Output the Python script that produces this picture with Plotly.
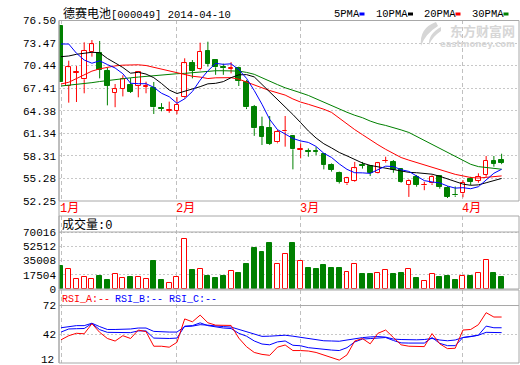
import plotly.graph_objects as go

# ---------------- data ----------------
title_text = "德赛电池[000049] 2014-04-10"
month_labels = ["1月", "2月", "3月", "4月"]
month_idx = [0, 15, 31, 52]

opens = [75.80, 67.70, 69.50, 68.60, 72.31, 72.17, 69.72, 66.80, 67.30, 67.83,
         67.70, 67.60, 67.43, 64.75, 64.40, 64.34, 66.18, 70.83, 69.94, 72.40,
         71.19, 70.30, 70.00, 70.08, 68.28, 64.84, 62.23, 62.10, 60.13, 61.60,
         60.98, 59.15, 59.00, 59.00, 58.52, 57.08, 56.05, 54.62, 54.98, 57.08,
         56.95, 56.05, 57.60, 57.53, 56.50, 54.39, 55.51, 54.35, 54.62, 55.60,
         53.95, 53.10, 53.28, 55.20, 54.93, 55.74, 57.66, 57.75]
highs = [75.80, 71.10, 70.38, 73.57, 73.88, 73.75, 70.12, 67.97, 69.14, 68.77,
         69.71, 68.28, 68.24, 65.40, 65.60, 66.20, 71.42, 71.19, 73.52, 73.65,
         71.30, 70.70, 70.90, 70.30, 68.50, 65.15, 63.58, 63.67, 61.80, 63.67,
         61.10, 60.00, 59.32, 59.50, 58.65, 57.30, 56.20, 55.50, 57.50, 57.50,
         57.08, 57.50, 58.20, 57.75, 56.60, 55.15, 55.74, 54.84, 55.70, 55.70,
         54.25, 54.20, 55.07, 55.50, 55.97, 58.30, 58.30, 58.60]
lows = [68.28, 65.46, 65.55, 66.72, 71.64, 68.73, 65.10, 64.85, 66.30, 66.76,
        66.18, 66.72, 63.94, 64.30, 64.10, 63.90, 66.00, 68.73, 69.80, 70.30,
        69.20, 69.20, 69.40, 67.70, 64.60, 61.00, 59.77, 59.77, 60.00, 59.55,
        56.50, 57.98, 58.20, 58.40, 56.50, 56.20, 54.60, 54.40, 54.84, 56.60,
        55.60, 55.96, 57.40, 56.05, 54.70, 52.80, 54.17, 53.70, 54.40, 53.90,
        52.65, 52.80, 52.75, 54.40, 54.71, 55.50, 56.86, 57.20]
closes = [68.28, 70.21, 69.58, 72.44, 73.30, 69.85, 67.74, 67.26, 68.60, 66.89,
          69.54, 67.75, 64.84, 64.65, 64.50, 65.15, 70.75, 69.76, 72.31, 70.66,
          70.21, 70.10, 70.10, 68.41, 64.84, 62.02, 60.89, 59.90, 61.56, 61.70,
          59.19, 59.23, 58.90, 58.90, 57.08, 56.41, 54.84, 55.29, 56.63, 57.00,
          56.05, 57.31, 57.65, 56.41, 54.84, 54.93, 54.39, 54.40, 55.51, 54.17,
          52.83, 53.00, 54.71, 54.80, 55.50, 57.66, 57.22, 57.35]

ma5 = [73.34, 73.34, 72.10, 71.19, 70.76, 71.08, 70.58, 70.12, 69.35, 68.07,
       68.01, 68.01, 67.52, 66.73, 66.26, 65.38, 65.98, 66.96, 68.49, 69.73,
       70.74, 70.61, 70.68, 69.90, 68.73, 67.09, 65.25, 63.21, 61.84, 61.21,
       60.65, 60.32, 60.12, 59.58, 58.66, 58.10, 57.23, 56.50, 56.05, 56.03,
       55.96, 56.46, 56.93, 56.88, 56.45, 56.23, 55.64, 54.99, 54.81, 54.68,
       54.26, 53.98, 54.04, 53.90, 54.17, 55.13, 55.98, 56.51]
ma10 = [71.64, 71.73, 71.96, 72.13, 72.23, 72.17, 71.40, 70.80, 70.19, 69.42,
        69.54, 69.30, 68.82, 68.04, 67.16, 66.69, 66.99, 67.24, 67.61, 67.99,
        68.06, 68.29, 68.82, 69.20, 69.23, 68.92, 67.93, 66.94, 65.87, 64.97,
        63.87, 62.78, 61.66, 60.71, 59.94, 59.38, 58.77, 58.31, 57.82, 57.35,
        57.03, 56.84, 56.72, 56.47, 56.24, 56.10, 56.05, 55.96, 55.85, 55.57,
        55.24, 54.81, 54.52, 54.36, 54.42, 54.70, 54.98, 55.28]
ma20 = [67.97, 68.20, 68.70, 69.20, 69.70, 70.00, 70.25, 70.40, 70.50, 70.55,
        70.55, 70.45, 70.20, 69.95, 69.70, 69.44, 69.25, 69.01, 68.90, 68.70,
        68.80, 68.79, 68.82, 68.62, 68.20, 67.80, 67.46, 67.09, 66.74, 66.48,
        65.96, 65.54, 65.24, 64.95, 64.58, 64.15, 63.35, 62.63, 61.84, 61.16,
        60.45, 59.81, 59.19, 58.59, 58.09, 57.74, 57.41, 57.14, 56.83, 56.46,
        56.14, 55.83, 55.62, 55.41, 55.33, 55.40, 55.52, 55.62]
ma30 = [67.70, 67.80, 67.90, 68.00, 68.15, 68.30, 68.45, 68.60, 68.70, 68.80,
        68.90, 69.00, 69.10, 69.20, 69.30, 69.35, 69.40, 69.50, 69.60, 69.70,
        69.75, 69.75, 69.75, 69.70, 69.53, 69.27, 68.81, 68.32, 67.89, 67.46,
        67.16, 66.79, 66.43, 65.98, 65.44, 64.99, 64.56, 64.17, 63.77, 63.44,
        62.99, 62.64, 62.40, 62.13, 61.80, 61.46, 60.92, 60.41, 59.85, 59.30,
        58.72, 58.15, 57.63, 57.18, 56.87, 56.72, 56.60, 56.52]

volumes = [27800, 24100, 12100, 15300, 12100, 16100, 11300, 18100, 13700, 14900,
           14500, 12100, 35000, 11300, 6800, 15300, 61200, 22900, 24100, 16100,
           13700, 16100, 21700, 19300, 30200, 50700, 45100, 57100, 31000, 43500,
           55900, 33800, 25800, 24100, 29000, 25400, 25400, 20500, 31000, 18100,
           18100, 19300, 22900, 18100, 19300, 24100, 13700, 9700, 18100, 14900,
           15700, 11300, 16100, 15700, 19300, 36200, 19700, 14500]

rsi_a = [36.2, 40.5, 43.0, 42.5, 53.0, 44.0, 37.6, 34.9, 40.5, 37.6,
         46.4, 44.7, 29.5, 29.5, 28.5, 33.6, 58.0, 55.0, 62.0, 54.0,
         51.5, 51.2, 51.2, 38.0, 29.0, 23.0, 21.0, 20.0, 28.5, 30.8,
         25.0, 25.0, 24.5, 23.0, 20.5, 18.0, 15.0, 20.5, 35.0, 37.5,
         32.0, 43.0, 46.4, 38.6, 31.0, 29.5, 29.1, 29.1, 42.7, 32.0,
         27.0, 27.4, 46.4, 47.0, 52.0, 64.5, 60.0, 60.0]
rsi_b = [44.3, 47.5, 47.8, 48.0, 53.2, 46.8, 44.0, 43.7, 43.7, 43.7,
         45.5, 45.5, 38.0, 37.6, 37.6, 38.0, 50.5, 51.0, 53.9, 51.0,
         49.5, 48.5, 48.0, 43.0, 40.0, 35.0, 31.8, 31.0, 34.0, 35.0,
         30.5, 30.0, 28.0, 27.0, 26.5, 25.5, 25.0, 28.0, 34.0, 37.0,
         37.5, 38.2, 38.6, 35.5, 33.0, 32.8, 32.8, 32.8, 38.6, 32.5,
         30.1, 30.1, 38.6, 39.5, 41.0, 50.5, 48.8, 48.8]
rsi_c = [48.8, 50.0, 51.0, 51.0, 53.5, 50.0, 47.0, 47.0, 47.0, 47.5,
         48.5, 48.5, 45.0, 44.3, 44.3, 44.3, 50.0, 50.5, 52.0, 51.5,
         50.5, 50.0, 49.5, 47.0, 44.5, 42.0, 39.8, 40.0, 40.8, 41.0,
         40.0, 38.8, 37.5, 36.2, 35.2, 35.0, 34.7, 36.0, 37.6, 38.5,
         39.2, 39.6, 39.0, 37.0, 36.5, 36.2, 36.2, 36.5, 37.6, 36.0,
         35.2, 36.0, 38.6, 39.5, 41.0, 44.0, 43.7, 43.7]

price_ticks = [52.25, 55.28, 58.31, 61.34, 64.38, 67.41, 70.44, 73.47, 76.50]
vol_ticks = [0, 17504, 35008, 52512, 70016]
rsi_ticks = [12, 42, 72]
ma_names = ["5PMA", "10PMA", "20PMA", "30PMA"]
rsi_names = ["RSI_A:--", "RSI_B:--", "RSI_C:--"]

# ---------------- layout helpers ----------------
W, H = 520, 365
ML, MR, MT, MB = 59, 1, 20, 2
PW, PH = W - ML - MR, H - MT - MB
RED, GREEN, BLUE, BLACK = "#ff0000", "#008000", "#0000ff", "#000000"
GRID, BORDER = "#c8c8c8", "#a8a8a8"
MONO = "Liberation Mono, Noto Sans CJK SC, monospace"
WM = "#d6d6d6"


def py(y):
    return (H - MB - y) / PH


def px(x):
    return (x - ML) / PW


n = len(closes)
idx = list(range(n))
up = [c >= o for o, c in zip(opens, closes)]

fig = go.Figure()

# wicks (split so they don't cross hollow bodies)
for flag, col in ((True, RED), (False, GREEN)):
    wx, wy = [], []
    for i in idx:
        if up[i] != flag:
            continue
        top, bot = max(opens[i], closes[i]), min(opens[i], closes[i])
        wx += [i, i, None, i, i, None]
        wy += [highs[i], top, None, bot, lows[i], None]
    fig.add_trace(go.Scatter(x=wx, y=wy, mode="lines", line=dict(color=col, width=1),
                             hoverinfo="skip", showlegend=False))

# bodies
fig.add_trace(go.Bar(
    x=idx,
    base=[min(o, c) for o, c in zip(opens, closes)],
    y=[max(abs(c - o), 0.04) for o, c in zip(opens, closes)],
    width=0.6,
    marker=dict(color=["#ffffff" if u else GREEN for u in up],
                line=dict(color=[RED if u else GREEN for u in up], width=1)),
    showlegend=False, hoverinfo="skip"))

# moving averages
for vals, col in ((ma30, GREEN), (ma20, RED), (ma10, BLACK), (ma5, BLUE)):
    fig.add_trace(go.Scatter(x=idx, y=vals, mode="lines", line=dict(color=col, width=1),
                             showlegend=False, hoverinfo="skip"))

# volume
fig.add_trace(go.Bar(
    x=idx, y=volumes, yaxis="y2", width=0.64,
    marker=dict(color=["#ffffff" if u else GREEN for u in up],
                line=dict(color=[RED if u else GREEN for u in up], width=1)),
    showlegend=False, hoverinfo="skip"))

# RSI
for vals, col in ((rsi_c, BLUE), (rsi_b, BLUE), (rsi_a, RED)):
    fig.add_trace(go.Scatter(x=idx, y=vals, yaxis="y3", mode="lines",
                             line=dict(color=col, width=1), showlegend=False, hoverinfo="skip"))

tickfont = dict(family=MONO, size=11, color=BLACK)
yax_common = dict(showgrid=True, gridcolor=GRID, griddash="2px,2px", gridwidth=1,
                  zeroline=False, showline=False, ticks="", tickfont=tickfont,
                  ticklabelstandoff=2, automargin=False, fixedrange=True)

fig.update_layout(
    width=W, height=H,
    margin=dict(l=ML, r=MR, t=MT, b=MB),
    paper_bgcolor="white", plot_bgcolor="white",
    bargap=0, barmode="overlay", hovermode=False,
    xaxis=dict(range=[-0.26, 59.25], showticklabels=False, tickvals=month_idx,
               showgrid=True, gridcolor="#c0c0c0", griddash="4px,3px", gridwidth=1,
               zeroline=False, showline=False, ticks="", anchor="y3", automargin=False,
               fixedrange=True),
    yaxis=dict(domain=[py(201), 1.0], range=[52.25, 76.567],
               tickvals=price_ticks, ticktext=["%.2f" % v for v in price_ticks], **yax_common),
    yaxis2=dict(domain=[py(289), py(216)], range=[0, 89670],
                tickvals=vol_ticks, ticktext=[str(v) for v in vol_ticks], **yax_common),
    yaxis3=dict(domain=[0, py(290)], range=[12, 88.2],
                tickvals=rsi_ticks[1:], ticktext=[str(v) for v in rsi_ticks[1:]],
                **yax_common),
)

shapes = []
for y0, y1 in ((201, 20.5), (289, 216), (363, 290)):
    shapes.append(dict(type="rect", xref="paper", yref="paper", x0=0, x1=1,
                       y0=py(y0), y1=py(y1), line=dict(color=BORDER, width=1)))
shapes.append(dict(type="line", xref="paper", yref="paper", x0=0, x1=0, y0=0, y1=py(20.5),
                   line=dict(color=BORDER, width=1)))
shapes.append(dict(type="line", xref="paper", yref="y2", x0=0, x1=1, y0=vol_ticks[-1],
                   y1=vol_ticks[-1], line=dict(color=BORDER, width=1)))
shapes.append(dict(type="line", xref="paper", yref="y3", x0=0, x1=1, y0=rsi_ticks[-1],
                   y1=rsi_ticks[-1], line=dict(color=BORDER, width=1)))

# legend swatches
leg_text_x = [332, 374, 422, 470]
leg_sw_x = [359.5, 408, 455.5, 503.5]
leg_cols = [BLUE, BLACK, RED, GREEN]
ann = []
for name, tx, sx, col in zip(ma_names, leg_text_x, leg_sw_x, leg_cols):
    ann.append(dict(text=name, xref="paper", yref="paper", x=px(tx), y=py(14.5),
                    xanchor="left", yanchor="middle", showarrow=False,
                    font=dict(family=MONO, size=10.5, color=BLACK)))
    shapes.append(dict(type="rect", xref="paper", yref="paper", x0=px(sx), x1=px(sx + 5),
                       y0=py(15.5), y1=py(12.5), line=dict(width=0), fillcolor=col))

ann.append(dict(text='<span style="font-size:12px">德赛电池</span>[000049] 2014-04-10',
                xref="paper", yref="paper", x=px(61), y=py(14), xanchor="left",
                yanchor="middle", showarrow=False,
                font=dict(family=MONO, size=10.5, color=BLACK)))

# RSI bottom tick label (kept inside the canvas)
ann.append(dict(text=str(rsi_ticks[0]), xref="paper", yref="paper", x=px(56), y=py(359.5),
                xanchor="right", yanchor="middle", showarrow=False,
                font=tickfont))

# watermark logo + text
def pth(points):
    s = "M %f %f" % (px(points[0][0]), py(points[0][1]))
    for (x1, y1), (x2, y2) in zip(points[1::2], points[2::2]):
        s += " Q %f %f %f %f" % (px(x1), py(y1), px(x2), py(y2))
    return s + " Z"


shapes.append(dict(type="path", xref="paper", yref="paper", line=dict(width=0),
                   fillcolor=WM,
                   path=pth([(436, 22), (419, 28), (421, 46), (425, 34), (438, 26)])))
shapes.append(dict(type="path", xref="paper", yref="paper", line=dict(width=0),
                   fillcolor=WM,
                   path=pth([(441, 27), (428, 34), (429, 45), (432, 37), (441, 31)])))
ann.append(dict(text="<b>东方财富网</b>", xref="paper", yref="paper", x=px(517), y=py(30.5),
                xanchor="right", yanchor="middle", showarrow=False,
                font=dict(family="Noto Sans CJK SC", size=13, color=WM)))
ann.append(dict(text="<b>eastmoney.com</b>", xref="paper", yref="paper", x=px(517), y=py(44),
                xanchor="right", yanchor="middle", showarrow=False,
                font=dict(family="DejaVu Sans", size=8.5, color=WM)))

# month labels
for lab, mi in zip(month_labels, month_idx):
    ann.append(dict(text=lab, xref="x", yref="paper", x=mi, y=py(208.5), xanchor="left",
                    yanchor="middle", xshift=-3, showarrow=False,
                    font=dict(family=MONO, size=12, color=RED)))

ann.append(dict(text="成交量:0", xref="paper", yref="paper", x=px(60), y=py(224.5),
                xanchor="left", yanchor="middle", showarrow=False,
                font=dict(family=MONO, size=12, color=BLACK)))

for name, tx, col in zip(rsi_names, [60, 113, 167], [RED, BLUE, BLUE]):
    ann.append(dict(text=name, xref="paper", yref="paper", x=px(tx), y=py(299.5),
                    xanchor="left", yanchor="middle", showarrow=False,
                    font=dict(family=MONO, size=10, color=col)))

fig.update_layout(shapes=shapes, annotations=ann)
fig.write_html("out.html", config={"displayModeBar": False},
               post_script="document.body.style.margin='0px';")
